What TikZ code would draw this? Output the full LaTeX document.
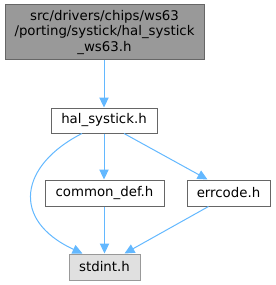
\documentclass[tikz,border=0pt]{standalone}
\usepackage{fontspec}
\setmainfont{DejaVu Sans}
\usetikzlibrary{arrows.meta,calc}
\definecolor{edgeblue}{HTML}{63B8FF}
\definecolor{topfill}{HTML}{999999}
\definecolor{bordgray}{HTML}{666666}
\definecolor{sysfill}{HTML}{E0E0E0}
\definecolor{sysbord}{HTML}{999999}
\tikzset{
  file/.style={draw=bordgray, fill=white, line width=0.75pt, inner sep=0pt, minimum height=19.5pt, font=\fontsize{10}{11.5}\selectfont},
  topfile/.style={file, fill=topfill, align=center},
  sysfile/.style={file, draw=sysbord, fill=sysfill},
  dep/.style={draw=edgeblue, line width=0.75pt, -{Triangle[length=7.5pt,width=7pt]}}
}
\begin{document}
\begin{tikzpicture}[x=0.75pt,y=-0.75pt]
\useasboundingbox (0,0) rectangle (275,285);
\node[topfile, minimum width=149.25pt, minimum height=41.25pt] (top) at (104.5,32.5)
  {src/drivers/chips/ws63\\/porting/systick/hal\_systick\\\_ws63.h};
\node[file, minimum width=79.5pt, minimum height=18.75pt] (hal) at (104,120.5) {hal\_systick.h};
\node[file, minimum width=89.25pt] (common) at (104.5,193) {common\_def.h};
\node[file, minimum width=62.25pt] (err) at (228.5,193) {errcode.h};
\node[sysfile, minimum width=53.25pt] (std) at (104.5,267) {stdint.h};
\draw[dep] (top.south -| hal.south) -- (hal.north);
\draw[dep] (hal.south) -- (hal.south |- common.north);
\draw[dep] ($(hal.south)+(20,0)$) -- ($(err.north)+(-21,0)$);
\draw[dep] ($(hal.south)+(-22,0)$) .. controls (20,165) and (10,220) .. ($(std.north)+(-22,0)$);
\draw[dep] (common.south) -- (common.south |- std.north);
\draw[dep] ($(err.south)+(-20,0)$) -- ($(std.north)+(20,0)$);
\end{tikzpicture}
\end{document}
